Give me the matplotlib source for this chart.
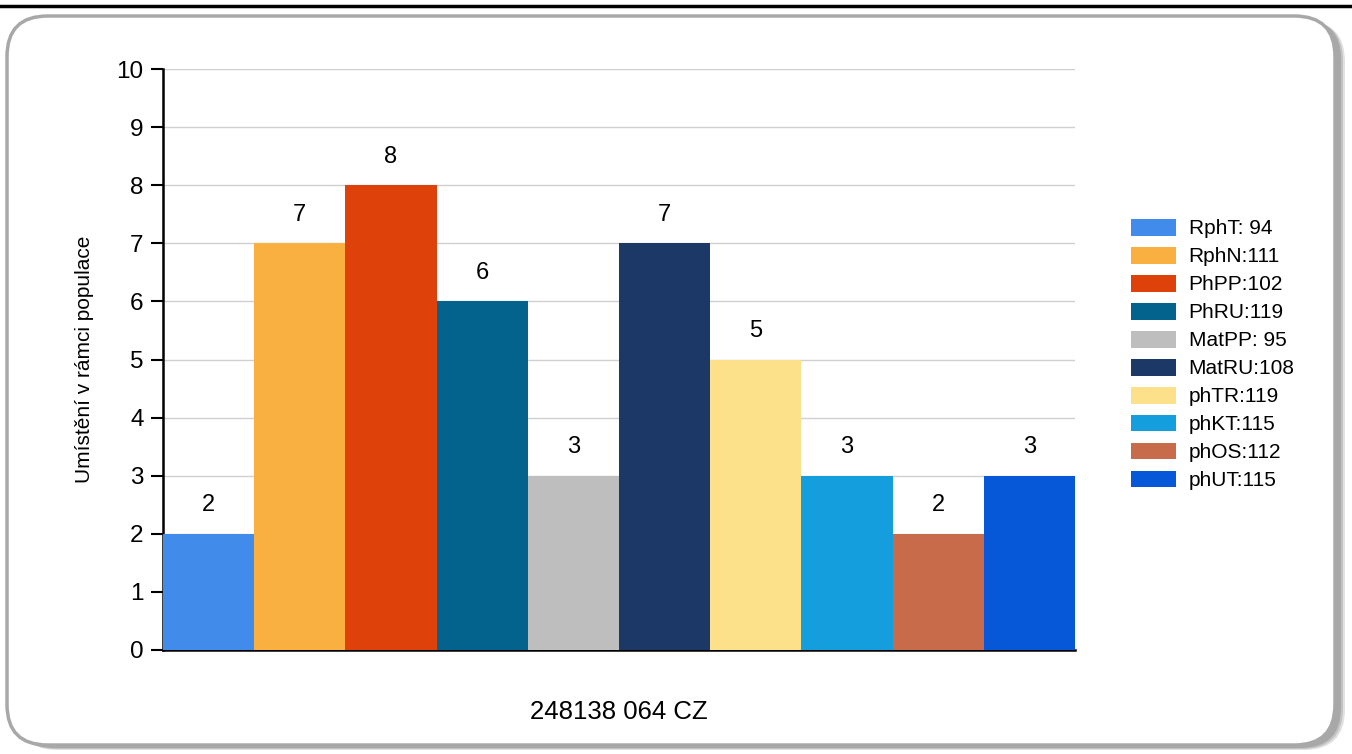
import matplotlib
matplotlib.use("Agg")
import matplotlib.pyplot as plt
from matplotlib.patches import FancyBboxPatch, Patch
from matplotlib.lines import Line2D

plt.rcParams["font.family"] = ["Liberation Sans", "DejaVu Sans"]

labels = ["RphT: 94", "RphN:111", "PhPP:102", "PhRU:119", "MatPP: 95",
          "MatRU:108", "phTR:119", "phKT:115", "phOS:112", "phUT:115"]
values = [2, 7, 8, 6, 3, 7, 5, 3, 2, 3]
colors = ["#418BEB", "#F9B040", "#DF410A", "#04638D", "#BEBEBE",
          "#1C3867", "#FDE08A", "#149EDE", "#C86B4B", "#0757D9"]
yticks = list(range(0, 11))

W, H = 1352, 754
fig = plt.figure(figsize=(W / 100, H / 100), dpi=100)

# top black line
fig.add_artist(Line2D([0, 1], [1 - 6 / H, 1 - 6 / H], color="black", lw=2.5,
                      transform=fig.transFigure, zorder=-2))

# shadow and rounded frame
for off, a in [(10, 0.25), (8, 0.35), (6, 0.45)]:
    shadow = FancyBboxPatch(((7 + off) / W, (9 - off / 2) / H), 1328 / W, 729 / H,
                            boxstyle="round,pad=0,rounding_size=0.03",
                            transform=fig.transFigure, facecolor="#8a8a8a",
                            edgecolor="none", alpha=a, mutation_aspect=W / H,
                            zorder=-3)
    fig.add_artist(shadow)
frame = FancyBboxPatch((7 / W, 9 / H), 1328 / W, 729 / H,
                       boxstyle="round,pad=0,rounding_size=0.03",
                       transform=fig.transFigure, facecolor="white",
                       edgecolor="#a8a8a8", lw=2.5, mutation_aspect=W / H,
                       zorder=-2)
fig.add_artist(frame)

ax = fig.add_axes([163 / W, 104 / H, 912 / W, 581 / H])
ax.set_facecolor("none")
x = range(len(values))
bars = ax.bar(x, values, width=1.0, color=colors, zorder=3)
for xi, v in zip(x, values):
    ax.text(xi, v + 0.3, str(v), ha="center", va="bottom", fontsize=17)

ax.set_xlim(-0.5, len(values) - 0.5)
ax.set_ylim(0, 10)
ax.set_yticks(yticks)
ax.tick_params(axis="y", labelsize=17.5, length=9, width=1.5, pad=5, direction="out")
ax.set_xticks([])
for y in yticks[1:]:
    ax.axhline(y, color="#d0d0d0", lw=1, zorder=1)
ax.spines["top"].set_visible(False)
ax.spines["right"].set_visible(False)
ax.spines["left"].set_linewidth(1.8)
ax.spines["bottom"].set_linewidth(1.8)
ax.set_ylabel("Umístění v rámci populace", fontsize=15, labelpad=16)
ax.set_xlabel("248138 064 CZ", fontsize=18.5, labelpad=36)

handles = [Patch(facecolor=c, edgecolor="none") for c in colors]
fig.legend(handles, labels, loc="upper left", bbox_to_anchor=(1112 / W, 1 - 200 / H),
           frameon=False, fontsize=15, handlelength=2.16, handleheight=0.87,
           labelspacing=0.4, handletextpad=0.62)

fig.savefig("out.png", dpi=100)
